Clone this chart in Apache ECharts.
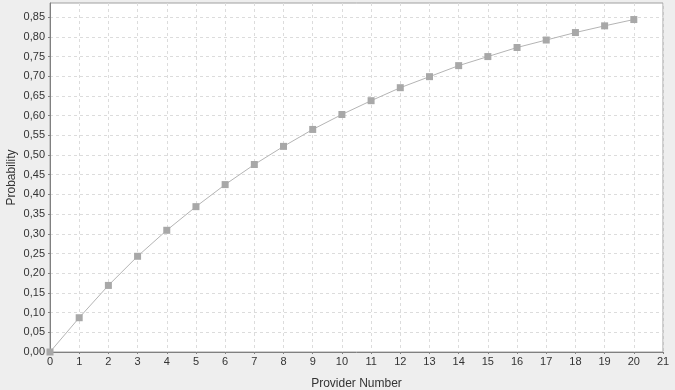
<!DOCTYPE html>
<html><head><meta charset="utf-8">
<script src="https://cdn.jsdelivr.net/npm/echarts@6/dist/echarts.min.js"></script>
<style>html,body{margin:0;padding:0;background:#eeeeee;}#c{width:675px;height:390px;}</style>
</head><body><div id="c"></div>
<script>
var providerNumbers = [0,1,2,3,4,5,6,7,8,9,10,11,12,13,14,15,16,17,18,19,20];
var probabilities = [0.000,0.087,0.169,0.243,0.309,0.369,0.425,0.476,0.522,0.565,0.603,0.638,0.671,0.699,0.727,0.750,0.773,0.792,0.811,0.828,0.844];
var yTicks = [0,0.05,0.10,0.15,0.20,0.25,0.30,0.35,0.40,0.45,0.50,0.55,0.60,0.65,0.70,0.75,0.80,0.85];
var xTitle = 'Provider Number';
var yTitle = 'Probability';

var chart = echarts.init(document.getElementById('c'), null, {renderer:'canvas'});
var font = 'Liberation Sans, Arial, sans-serif';
chart.setOption({
  backgroundColor:'#eeeeee',
  animation:false,
  grid:{left:50,top:3,right:12,bottom:38,containLabel:false,outerBoundsMode:'none',show:true,backgroundColor:'#ffffff',borderColor:'#a0a0a0',borderWidth:1},
  xAxis:{type:'value',min:0,max:21,interval:1,
    name:xTitle,nameLocation:'middle',nameGap:26,nameMoveOverlap:false,
    nameTextStyle:{color:'#333',fontFamily:font,fontSize:12},
    axisLine:{show:true,onZero:false,lineStyle:{color:'#808080'}},
    axisTick:{show:true,length:2,lineStyle:{color:'#808080'}},
    axisLabel:{color:'#333',fontFamily:font,fontSize:11,margin:4},
    splitLine:{show:true,lineStyle:{color:'#dcdcdc',type:[3,3]}}},
  yAxis:{type:'value',min:0,max:0.886,interval:0.05,
    name:yTitle,nameLocation:'middle',nameGap:32,nameMoveOverlap:false,
    nameTextStyle:{color:'#333',fontFamily:font,fontSize:12},
    axisLine:{show:true,onZero:false,lineStyle:{color:'#808080'}},
    axisTick:{show:true,length:2,customValues:yTicks,lineStyle:{color:'#808080'}},
    axisLabel:{color:'#333',fontFamily:font,fontSize:11,margin:5,customValues:yTicks,
      formatter:function(v){return v.toFixed(2).replace('.',',');}},
    splitLine:{show:true,lineStyle:{color:'#dcdcdc',type:[3,3]}}},
  series:[{type:'line',
    data:providerNumbers.map(function(x,i){return [x,probabilities[i]];}),
    symbol:'rect',symbolSize:7,
    lineStyle:{color:'#b4b4b4',width:1},
    itemStyle:{color:'#a8a8a8'}}]
});
</script></body></html>
